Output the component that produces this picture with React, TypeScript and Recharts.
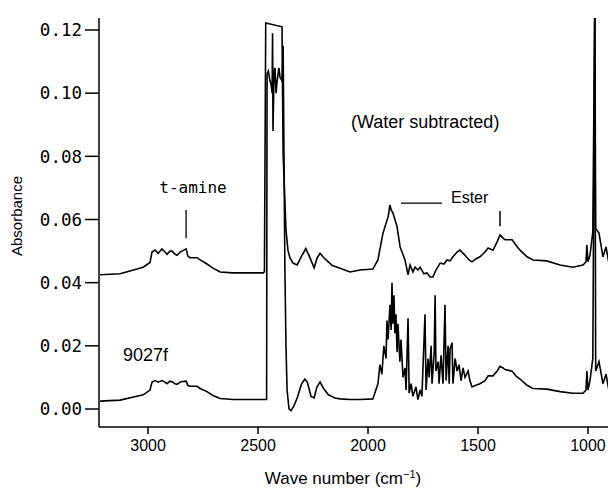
import React from 'react';
import { LineChart, Line, XAxis, YAxis, ReferenceLine } from 'recharts';

// upper trace: water subtracted (wave number cm-1, absorbance)
const upperWn = [
  3218, 3127, 3022, 2991, 2982, 2968, 2954, 2937, 2923, 2914, 2900, 2891, 2877, 2868, 2854, 2846, 2827,
  2819, 2809, 2777, 2763, 2732, 2705, 2672, 2614, 2477, 2471, 2465, 2391, 2386, 2378, 2373, 2364, 2355,
  2341, 2322, 2302, 2283, 2267, 2245, 2231, 2218, 2197, 2162, 2127, 2082, 2036, 1978, 1955, 1932, 1909,
  1900, 1895, 1887, 1868, 1854, 1832, 1818, 1809, 1796, 1786, 1773, 1763, 1746, 1732, 1718, 1705, 1691,
  1672, 1655, 1641, 1627, 1614, 1595, 1582, 1559, 1541, 1527, 1510, 1491, 1468, 1454, 1432, 1413, 1400,
  1386, 1377, 1345, 1328, 1309, 1277, 1250, 1187, 1127, 1069, 1023, 1009, 1005, 1000, 991, 978, 969, 965,
  950, 932, 918, 905,
];
const upperAbs = [
  0.0425, 0.0428, 0.0449, 0.0464, 0.0497, 0.0503, 0.0493, 0.0507, 0.0497, 0.0490, 0.0500, 0.0500, 0.0490,
  0.0487, 0.0497, 0.0500, 0.0507, 0.0484, 0.0479, 0.0479, 0.0472, 0.0459, 0.0446, 0.0434, 0.0431, 0.0431,
  0.0434, 0.1222, 0.1210, 0.0808, 0.0660, 0.0567, 0.0503, 0.0479, 0.0462, 0.0456, 0.0484, 0.0508, 0.0484,
  0.0447, 0.0479, 0.0493, 0.0476, 0.0454, 0.0446, 0.0434, 0.0440, 0.0443, 0.0472, 0.0557, 0.0608, 0.0646,
  0.0630, 0.0621, 0.0577, 0.0513, 0.0472, 0.0425, 0.0456, 0.0434, 0.0449, 0.0440, 0.0449, 0.0428, 0.0431,
  0.0418, 0.0418, 0.0440, 0.0462, 0.0459, 0.0472, 0.0469, 0.0482, 0.0497, 0.0503, 0.0487, 0.0472, 0.0466,
  0.0475, 0.0482, 0.0497, 0.0510, 0.0503, 0.0529, 0.0551, 0.0541, 0.0536, 0.0536, 0.0519, 0.0503, 0.0482,
  0.0472, 0.0469, 0.0456, 0.0449, 0.0456, 0.0466, 0.0519, 0.0466, 0.0487, 0.0560, 0.1300, 0.0572, 0.0557,
  0.0482, 0.0513, 0.0462,
];

// lower trace: sample 9027f, water vapour not removed
const lowerWn = [
  3218, 3127, 3022, 2991, 2982, 2968, 2954, 2937, 2923, 2914, 2900, 2891, 2877, 2868, 2854, 2846, 2827,
  2819, 2809, 2777, 2763, 2732, 2705, 2672, 2614, 2477, 2461, 2459, 2453, 2446, 2441, 2436, 2434, 2432,
  2427, 2423, 2418, 2413, 2409, 2405, 2400, 2391, 2386, 2382, 2378, 2373, 2368, 2359, 2350, 2337, 2322,
  2302, 2287, 2276, 2259, 2245, 2232, 2218, 2202, 2180, 2150, 2127, 2082, 2036, 1978, 1955, 1946, 1937,
  1928, 1918, 1914, 1909, 1900, 1895, 1891, 1887, 1882, 1878, 1873, 1868, 1864, 1855, 1850, 1841, 1832,
  1827, 1818, 1813, 1804, 1796, 1782, 1773, 1763, 1755, 1741, 1736, 1727, 1722, 1713, 1709, 1699, 1695,
  1691, 1681, 1677, 1668, 1659, 1650, 1645, 1636, 1631, 1627, 1618, 1614, 1604, 1595, 1586, 1577, 1568,
  1559, 1545, 1537, 1527, 1510, 1491, 1468, 1454, 1432, 1413, 1400, 1386, 1377, 1345, 1328, 1309, 1277,
  1250, 1187, 1127, 1069, 1023, 1009, 1005, 1000, 991, 978, 969, 965, 950, 932, 918, 905,
];
const lowerAbs = [
  0.0025, 0.0028, 0.0045, 0.0060, 0.0085, 0.0090, 0.0085, 0.0090, 0.0085, 0.0080, 0.0088, 0.0086, 0.0080,
  0.0078, 0.0085, 0.0087, 0.0088, 0.0075, 0.0072, 0.0072, 0.0065, 0.0055, 0.0043, 0.0033, 0.0030, 0.0030,
  0.0030, 0.1060, 0.1070, 0.1040, 0.1030, 0.1000, 0.1190, 0.0880, 0.1070, 0.1080, 0.1000, 0.1040, 0.1060,
  0.1080, 0.1050, 0.1040, 0.1150, 0.0800, 0.0450, 0.0200, 0.0060, 0.0000, -0.0005, 0.0010, 0.0035, 0.0080,
  0.0095, 0.0085, 0.0040, 0.0035, 0.0070, 0.0085, 0.0065, 0.0045, 0.0035, 0.0032, 0.0030, 0.0030, 0.0032,
  0.0080, 0.0140, 0.0110, 0.0200, 0.0160, 0.0280, 0.0220, 0.0330, 0.0250, 0.0400, 0.0270, 0.0360, 0.0240,
  0.0300, 0.0180, 0.0270, 0.0150, 0.0220, 0.0100, 0.0130, 0.0060, 0.0287, 0.0050, 0.0080, 0.0040, 0.0070,
  0.0030, 0.0060, 0.0040, 0.0300, 0.0060, 0.0160, 0.0100, 0.0200, 0.0080, 0.0180, 0.0360, 0.0120, 0.0150,
  0.0080, 0.0170, 0.0080, 0.0330, 0.0090, 0.0200, 0.0080, 0.0190, 0.0210, 0.0080, 0.0160, 0.0120, 0.0140,
  0.0090, 0.0130, 0.0100, 0.0120, 0.0090, 0.0070, 0.0075, 0.0080, 0.0090, 0.0105, 0.0105, 0.0120, 0.0135,
  0.0130, 0.0125, 0.0120, 0.0105, 0.0095, 0.0075, 0.0065, 0.0063, 0.0055, 0.0050, 0.0050, 0.0060, 0.0120,
  0.0060, 0.0090, 0.0160, 0.1300, 0.0120, 0.0150, 0.0080, 0.0110, 0.0060,
];

const xTicks = [3000, 2500, 2000, 1500, 1000];
const yTicks = [0, 0.02, 0.04, 0.06, 0.08, 0.1, 0.12];

const upper = upperWn.map((wn, i) => ({ wn, a: upperAbs[i] }));
const lower = lowerWn.map((wn, i) => ({ wn, a: lowerAbs[i] }));

const mono = 'DejaVu Sans Mono, monospace';
const sans = 'Liberation Sans, Arial, sans-serif';

export default function App() {
  return (
    <div style={{ position: 'absolute', left: 0, top: 0, width: 608, height: 497, overflow: 'hidden', background: '#fff' }}>
      <LineChart width={608} height={497} margin={{ top: 18, right: 0, bottom: 0, left: 39 }}>
        <XAxis
          dataKey="wn"
          type="number"
          reversed
          domain={[909, 3223]}
          ticks={xTicks}
          allowDataOverflow
          stroke="#000"
          strokeWidth={1.5}
          tickSize={7}
          tickMargin={6}
          height={70}
          tick={{ fill: '#000', fontSize: 16, fontFamily: sans }}
        />
        <YAxis
          type="number"
          domain={[-0.0057, 0.1238]}
          ticks={yTicks}
          allowDataOverflow
          width={60}
          stroke="#000"
          strokeWidth={1.5}
          tickSize={14}
          tickMargin={3}
          tickFormatter={(v: number) => v.toFixed(2)}
          tick={{ fill: '#000', fontSize: 17.5, fontFamily: mono }}
        />
        <ReferenceLine segment={[{ x: 2827, y: 0.0541 }, { x: 2827, y: 0.0630 }]} stroke="#000" strokeWidth={1.3} />
        <ReferenceLine segment={[{ x: 1850, y: 0.0652 }, { x: 1664, y: 0.0652 }]} stroke="#000" strokeWidth={1.3} />
        <ReferenceLine segment={[{ x: 1400, y: 0.0579 }, { x: 1400, y: 0.0627 }]} stroke="#000" strokeWidth={1.5} />
        <Line data={upper} dataKey="a" type="linear" stroke="#000" strokeWidth={1.6} dot={false} isAnimationActive={false} />
        <Line data={lower} dataKey="a" type="linear" stroke="#000" strokeWidth={1.6} dot={false} isAnimationActive={false} />
      </LineChart>
      <svg width={608} height={497} style={{ position: 'absolute', left: 0, top: 0, pointerEvents: 'none' }}>
        <text x={18} y={216} transform="rotate(-90 18 216)" textAnchor="middle" dominantBaseline="middle" fontFamily={sans} fontSize={15}>
          Absorbance
        </text>
        <text x={343} y={484} textAnchor="middle" fontFamily={sans} fontSize={17}>
          Wave number (cm<tspan dy={-6} fontSize={11}>−1</tspan><tspan dy={6}>)</tspan>
        </text>
        <text x={193} y={193} textAnchor="middle" fontFamily={mono} fontSize={16}>t-amine</text>
        <text x={351} y={128} fontFamily={sans} fontSize={18}>(Water subtracted)</text>
        <text x={451} y={203} fontFamily={sans} fontSize={16}>Ester</text>
        <text x={123} y={361} fontFamily={sans} fontSize={18}>9027f</text>
      </svg>
    </div>
  );
}
